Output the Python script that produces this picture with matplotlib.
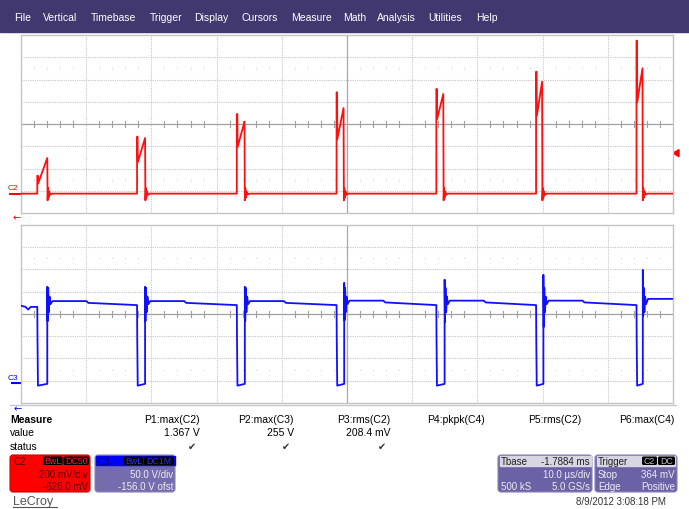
import numpy as np
import matplotlib
matplotlib.use('Agg')
import matplotlib.pyplot as plt
from matplotlib.patches import Rectangle, FancyBboxPatch, Polygon

plt.rcParams['font.family'] = ['Liberation Sans', 'DejaVu Sans']

# ---- data (time in us, C2 in V, C3 in V) ----
pulse_t = [-47.5, -32.2, -16.9, -1.6, 13.7, 29.0, 44.4]
red_width = [1.53, 1.23, 1.18, 1.07, 1.07, 0.92, 0.92]
red_spike = [0.161, 0.512, 0.716, 0.911, 0.941, 1.096, 1.375]
red_dip = [0.09, 0.284, 0.419, 0.491, 0.671, 0.698, 0.824]
red_peak = [0.32, 0.500, 0.647, 0.770, 0.896, 1.006, 1.127]

blue_width = [1.53, 1.23, 1.23, 1.17, 1.27, 1.12, 0.97]
blue_spike = [217, 217, 217, 226, 233, 244, 255]
blue_ring = [140, 140, 140, 142, 138, 127, 152]
blue_before = [172, 176, 176, 176, 176, 176, 176]
blue_after = [185, 185, 185, 186, 186, 186, 190]

c2_offset, c2_div = 0.626, 0.2     # 200 mV/div, -626 mV offset
c3_offset, c3_div = 156.0, 50.0    # 50 V/div, -156 V offset
trig_level = 0.364

menu_items = ['File', 'Vertical', 'Timebase', 'Trigger', 'Display', 'Cursors',
              'Measure', 'Math', 'Analysis', 'Utilities', 'Help']
menu_x = [14, 43, 91, 150, 194, 242, 291, 343, 377, 428, 476]

meas_names = ['P1:max(C2)', 'P2:max(C3)', 'P3:rms(C2)', 'P4:pkpk(C4)', 'P5:rms(C2)', 'P6:max(C4)']
meas_values = ['1.367 V', '255 V', '208.4 mV', '', '', '']
meas_ok = [True, True, True, False, False, False]

W, H = 689, 510
fig = plt.figure(figsize=(W / 100, H / 100), dpi=100)

# overlay in pixel units for the frame of the scope screen
ov = fig.add_axes([0, 0, 1, 1])
ov.set_xlim(0, W)
ov.set_ylim(H, 0)
ov.axis('off')

ov.add_patch(Rectangle((0, 0), W, 33, color='#41386f'))
for name, x in zip(menu_items, menu_x):
    ov.text(x, 18, name, color='white', fontsize=7.5, va='center')


def build_red():
    t, v = [-50], [0.0]
    for t0, w, sp, dp, pk in zip(pulse_t, red_width, red_spike, red_dip, red_peak):
        t += [t0, t0, t0 + 0.08, t0 + 0.12, t0 + w, t0 + w + 0.05, t0 + w + 0.12,
              t0 + w + 0.2, t0 + w + 0.3, t0 + w + 0.45, t0 + w + 0.7]
        v += [0.0, sp, sp, dp, pk, -0.06, 0.05, -0.035, 0.02, -0.01, 0.0]
    t.append(50)
    v.append(0.0)
    return t, v


def build_blue():
    t = [-50, -49.3, -48.9, -48.5]
    v = [174.6, 172, 166, 172]
    for i, (t0, w) in enumerate(zip(pulse_t, blue_width)):
        t += [t0, t0 + 0.03, t0 + 0.1, t0 + w, t0 + w, t0 + w + 0.06, t0 + w + 0.14,
              t0 + w + 0.24, t0 + w + 0.36, t0 + w + 0.5, t0 + w + 0.8]
        v += [blue_before[i], 100, -5, -1, blue_spike[i], blue_ring[i], 215, 160, 195,
              178, blue_after[i]]
        if i + 1 < len(pulse_t):
            t += [t0 + w + 6.0, t0 + w + 6.3]
            v += [blue_after[i], blue_after[i] - 4]
    t.append(50)
    v.append(blue_after[-1])
    return t, v


def scope_axes(rect, center, per_div):
    ax = fig.add_axes(rect)
    ax.set_xlim(-50, 50)
    ax.set_ylim(center - 4 * per_div, center + 4 * per_div)
    ax.set_xticks([])
    ax.set_yticks([])
    for s in ax.spines.values():
        s.set_color('#c4c4c4')
        s.set_linewidth(1.0)
    for x in range(-40, 50, 10):
        if x != 0:
            ax.axvline(x, color='#c8c8c8', lw=0.8, ls=(0, (1, 1)), zorder=1)
    for k in [-3, -2, -1, 1, 2, 3]:
        ax.axhline(center + k * per_div, color='#c4c4c4', lw=0.8, ls=(0, (1, 1)), zorder=1)
    ax.axhline(center, color='#a0a0a0', lw=0.9, zorder=1)
    ax.axvline(0, color='#a8a8a8', lw=0.9, zorder=1)
    minor = [x for x in np.arange(-48, 50, 2) if x % 10 != 0]
    for x in minor:
        ax.plot([x, x], [center - 0.12 * per_div, center + 0.12 * per_div],
                color='#a0a0a0', lw=0.8, zorder=1)
        for k in (-2.5, 2.5):
            ax.plot(x, center + k * per_div, marker='s', ms=0.6, color='#c0c0c0',
                    mec='none', zorder=1)
    return ax


ax_top = scope_axes([21 / W, 1 - 214 / H, 652 / W, 178 / H], c2_offset, c2_div)
rt, rv = build_red()
ax_top.plot(rt, rv, color='#ff1010', lw=1.3, zorder=3)

ax_bot = scope_axes([21 / W, 1 - 404 / H, 652 / W, 178 / H], c3_offset, c3_div)
bt, bv = build_blue()
ax_bot.plot(bt, bv, color='#1010ff', lw=1.3, zorder=3)

# channel markers
ov.text(8, 189, 'C2', color='#ff0000', fontsize=6, va='center')
ov.plot([10, 21], [195, 195], color='#ff0000', lw=1.5)
ov.text(17, 218, '\u2190', color='#ff0000', fontsize=7, va='center', ha='center',
        family='DejaVu Sans')
ov.text(8, 379, 'C3', color='#0000ff', fontsize=6, va='center')
ov.plot([12, 21], [384, 384], color='#0000ff', lw=1.5)
ov.text(18, 409, '\u2190', color='#0000ff', fontsize=7, va='center', ha='center',
        family='DejaVu Sans')
ty = 125 - (trig_level - c2_offset) / c2_div * 22.25
ov.add_patch(Polygon([(673, ty), (679, ty - 3.5), (679, ty + 3.5)], color='#ff0000'))

# measurement table
ov.plot([10, 676], [406, 406], color='#c8c8c8', lw=1)
ov.text(10, 420, 'Measure', fontsize=7.5, weight='bold', va='center')
ov.text(10, 433, 'value', fontsize=7.5, va='center')
ov.text(10, 447, 'status', fontsize=7.5, va='center')
col_x = [200, 294, 390, 485, 581, 675]
for x, name, val, ok in zip(col_x, meas_names, meas_values, meas_ok):
    ov.text(x, 420, name, fontsize=7.5, va='center', ha='right')
    if val:
        ov.text(x, 433, val, fontsize=7.5, va='center', ha='right')
    if ok:
        ov.text(x - 8, 447, '\u2714', fontsize=7, va='center', ha='center',
                color='#333333', family='DejaVu Sans')


def box(x0, x1, color):
    ov.add_patch(FancyBboxPatch((x0, 456), x1 - x0, 37, boxstyle='round,pad=0,rounding_size=3',
                                fc=color, ec='#8a84b8' if color != '#ff0000' else '#d00000', lw=0.8))


def tag(x0, x1, label, tcolor):
    ov.add_patch(FancyBboxPatch((x0, 457.5), x1 - x0, 8.5, boxstyle='round,pad=0,rounding_size=1.5',
                                fc='black', ec='none'))
    ov.text((x0 + x1) / 2, 462, label, fontsize=6.3, color=tcolor, ha='center', va='center')


# C2 box
box(10, 90, '#ff0000')
ov.text(13, 462, 'C2', fontsize=7, color='#400000', va='center')
tag(43, 62.5, 'BwL', '#ff2020')
tag(63.5, 89, 'DC50', '#ff2020')
ov.text(88, 475, '200 mV/div', fontsize=7, color='#5a0000', ha='right', va='center')
ov.text(88, 487, '-626.0 mV', fontsize=7, color='#5a0000', ha='right', va='center')

# C3 box
box(95, 175, '#756cae')
ov.add_patch(Rectangle((96, 457), 78.5, 9, color='#0000ff'))
ov.text(98, 462, 'C3', fontsize=7, color='#000060', va='center')
tag(124, 143, 'BwL', '#3030ff')
tag(144, 174, 'DC1M', '#3030ff')
ov.text(173, 475, '50.0 V/div', fontsize=7, color='#ececf4', ha='right', va='center')
ov.text(173, 487, '-156.0 V ofst', fontsize=7, color='#ececf4', ha='right', va='center')

ov.text(13, 502, 'LeCroy', fontsize=9, color='#555555', va='center')
ov.plot([13, 57], [508, 508], color='#555555', lw=0.8)

# timebase box
box(498, 592, '#6b62a6')
ov.add_patch(Rectangle((500, 457), 90.5, 10, color='#d8d6e2'))
ov.text(501, 462, 'Tbase', fontsize=7, color='#202020', va='center')
ov.text(590, 462, '-1.7884 ms', fontsize=7, color='#202020', ha='right', va='center')
ov.text(590, 475, '10.0 \u00b5s/div', fontsize=7, color='#ececf4', ha='right', va='center')
ov.text(501, 487, '500 kS', fontsize=7, color='#ececf4', va='center')
ov.text(590, 487, '5.0 GS/s', fontsize=7, color='#ececf4', ha='right', va='center')

# trigger box
box(595, 677, '#6b62a6')
ov.add_patch(Rectangle((597, 457), 78, 10, color='#d8d6e2'))
ov.text(598, 462, 'Trigger', fontsize=7, color='#202020', va='center')
tag(642, 657, 'C2', '#c0c0c0')
tag(658, 675, 'DC', '#c0c0c0')
ov.text(598, 475, 'Stop', fontsize=7, color='#ececf4', va='center')
ov.text(675, 475, '364 mV', fontsize=7, color='#ececf4', ha='right', va='center')
ov.text(598, 487, 'Edge', fontsize=7, color='#ececf4', va='center')
ov.text(675, 487, 'Positive', fontsize=7, color='#ececf4', ha='right', va='center')

ov.text(666, 502, '8/9/2012 3:08:18 PM', fontsize=7, color='#333333', ha='right', va='center')

fig.savefig('out.png', dpi=100)
